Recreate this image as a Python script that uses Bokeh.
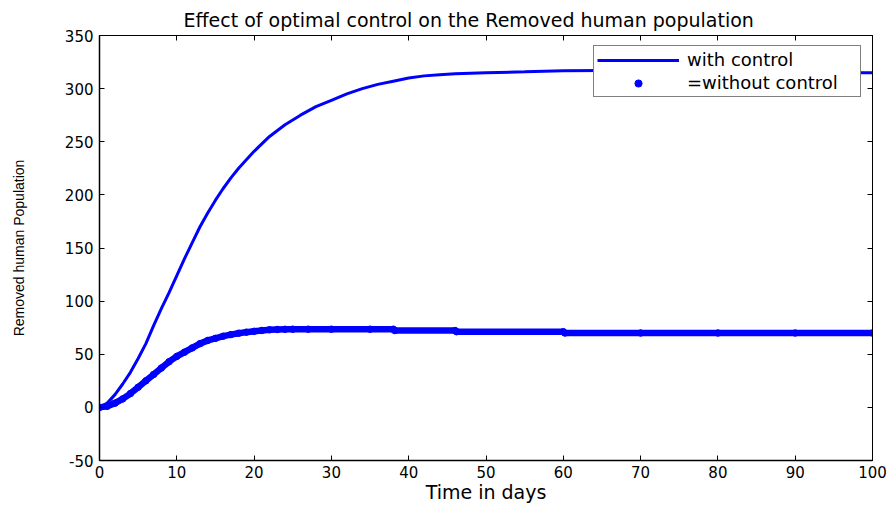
from bokeh.plotting import figure
from bokeh.models import Range1d, FixedTicker, LinearAxis, Legend, LegendItem
from bokeh.embed import file_html
from bokeh.resources import INLINE

title_text = "Effect of optimal control on the Removed human population"
x_label = "Time in days"
y_label = "Removed human Population"
x_ticks = [0, 10, 20, 30, 40, 50, 60, 70, 80, 90, 100]
y_ticks = [-50, 0, 50, 100, 150, 200, 250, 300, 350]
y_tick_labels = {-50: "-50"}

# "with control" (solid line)
t_with = [0, 1, 2, 3, 4, 5, 6, 7, 8, 9, 10, 11, 12, 13, 14, 15, 16, 17, 18, 19, 20,
          22, 24, 26, 28, 30, 32, 34, 36, 38, 40, 42, 44, 46, 48, 50, 55, 60, 65, 70,
          80, 90, 97.5, 97.7, 100]
with_control = [0, 4, 12, 22, 33, 46, 60, 77, 93, 108, 124, 140, 155, 170, 183, 195, 206,
                216, 225, 233, 241, 255, 266, 275, 283, 289, 295, 300, 304, 307, 310, 312,
                313, 314, 314.5, 315, 315.8, 316.8, 317, 317, 317, 317, 317, 315, 315]

# "=without control" (dots)
t_without = [0, 1, 2, 3, 4, 5, 6, 7, 8, 9, 10, 11, 12, 13, 14, 15, 16, 17, 18, 19, 20,
             21, 22, 23, 24, 25, 27, 30, 35, 38, 38.2, 46, 46.2, 60, 60.2, 70, 80, 90, 100]
without_control = [0, 1, 4, 8, 13, 19, 25, 31, 37, 43, 48, 52, 56, 60, 63, 65, 67, 68.5,
                   69.8, 70.8, 71.6, 72.4, 73, 73.3, 73.5, 73.6, 73.6, 73.6, 73.6, 73.6,
                   72.3, 72.3, 71.2, 71.2, 70, 70, 70, 70, 70]

BLUE = "#0000ff"

p = figure(width=890, height=506, output_backend="svg", toolbar_location=None,
           x_range=Range1d(0, 100), y_range=Range1d(-50, 350),
           min_border_left=99, min_border_right=18, min_border_top=35,
           min_border_bottom=46, title=title_text, background_fill_color="white",
           border_fill_color="white")
p.title.align = "left"
p.title.offset = 84
p.title.text_font = "DejaVu Sans"
p.title.text_font_size = "19px"
p.title.text_font_style = "normal"
p.title.text_color = "black"
p.title.text_line_height = 1.0
p.title.standoff = 9
p.grid.visible = False
p.outline_line_color = "black"
p.outline_line_width = 1

p.xaxis.ticker = FixedTicker(ticks=x_ticks)
p.yaxis.ticker = FixedTicker(ticks=y_ticks)
p.yaxis.major_label_overrides = y_tick_labels
p.xaxis.axis_label = x_label
p.yaxis.axis_label = y_label

for ax in (p.xaxis[0], p.yaxis[0]):
    ax.major_tick_in = 5
    ax.major_tick_out = 0
    ax.minor_tick_line_color = None
    ax.axis_line_color = "black"
    ax.axis_line_width = 1.5
    ax.major_tick_line_color = "black"
    ax.major_label_text_font = "DejaVu Sans"
    ax.major_label_text_font_size = "15px"
    ax.major_label_text_color = "black"
    ax.axis_label_text_color = "black"
    ax.axis_label_text_font_style = "normal"

p.xaxis.major_label_standoff = 5
p.xaxis.axis_label_text_font = "DejaVu Sans"
p.xaxis.axis_label_text_font_size = "19px"
p.xaxis.axis_label_text_line_height = 1.0
p.xaxis.axis_label_standoff = 0
p.yaxis.major_label_standoff = 6
p.yaxis.axis_label_text_font = "Liberation Sans"
p.yaxis.axis_label_text_font_size = "14px"
p.yaxis.axis_label_standoff = 35

# mirrored ticks on top and right (MATLAB box), no labels drawn
top = LinearAxis(ticker=FixedTicker(ticks=x_ticks), major_tick_in=5, major_tick_out=0,
                 minor_tick_line_color=None, major_label_text_font_size="1px",
                 major_label_text_color=None, major_label_standoff=0,
                 axis_line_color="black")
right = LinearAxis(ticker=FixedTicker(ticks=y_ticks), major_tick_in=5, major_tick_out=0,
                   minor_tick_line_color=None, major_label_text_font_size="1px",
                   major_label_text_color=None, major_label_standoff=0,
                   axis_line_color="black")
p.add_layout(top, "above")
p.add_layout(right, "right")

r_with = p.line(t_with, with_control, line_color=BLUE, line_width=3)
p.line(t_without, without_control, line_color=BLUE, line_width=6.5,
       line_cap="round", line_join="round")
r_dots = p.scatter(t_without, without_control, size=6.5, color=BLUE)

legend = Legend(items=[LegendItem(label="with control", renderers=[r_with]),
                       LegendItem(label="=without control", renderers=[r_dots])],
                location=(494, 363), margin=0, padding=3, spacing=2,
                glyph_width=82, glyph_height=18, label_height=18, label_standoff=8,
                label_width=170,
                label_text_font="DejaVu Sans", label_text_font_size="18px",
                label_text_color="black",
                border_line_color="black", border_line_width=1.5,
                background_fill_color="white", background_fill_alpha=1)
p.add_layout(legend)

open("out.html", "w").write(file_html(p, INLINE))
